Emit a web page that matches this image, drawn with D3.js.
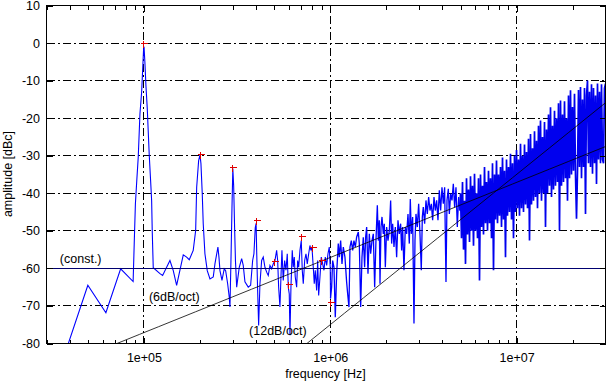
<!DOCTYPE html>
<html><head><meta charset="utf-8">
<script src="https://cdn.jsdelivr.net/npm/d3@7"></script>
<style>
body{margin:0;background:#fff}
text{font-family:"Liberation Sans",Arial,Helvetica,sans-serif;font-size:12.5px;fill:#000}
</style>
</head><body>
<svg id="chart" width="606" height="383"></svg>
<script>
// ---------------- data ----------------
// spectrum below 1 MHz: [frequency kHz, amplitude dBc]
const lowSpectrum = [
[37.5,-83],[50,-64.5],[62.5,-71.8],[75,-60.1],[87.5,-63.5],
[88.7,-53.4],[90.0,-42.8],[91.7,-36],[93.2,-30.4],[95.2,-18.8],[97.2,-13.1],[98.4,-7.3],[99.6,-1.5],[100.2,-1.3],[101.2,-5.1],[102.5,-11.3],[104.2,-17.4],[105.5,-23.7],[106.8,-29.9],[108.6,-36.6],[110.0,-42],[110.8,-49.9],[112.2,-59.8],
[121.9,-61.4],[126.0,-61.9],[137.9,-57.9],[143.7,-60.6],[149.8,-64.5],[162.6,-56.4],[169.5,-57],[175.1,-57.7],[183.9,-55.2],[189.5,-49.9],[191.9,-38.4],[196.6,-31.3],[200,-29.8],[202.3,-32.1],[205.6,-40.1],[208.1,-48.1],[212.5,-56.1],[218.7,-60.6],[226.2,-62.8],[235.5,-62.3],[240.5,-58.8],[249.5,-54.3],[252.7,-57],[255.9,-60.6],[262.3,-63.2],[269.8,-60.1],[274.5,-60.6],[281.4,-64.1],[287.0,-67.7],[289.5,-70.3],
[293.1,-58],[296.8,-44],[300,-33.4],[303.1,-38],[306.9,-50],[309.9,-58],
[314.6,-65.0],[324.8,-59.7],[334.6,-57.4],[341.2,-59.2],[348.4,-63.6],[362.9,-65.0],[373.8,-64.5],[383.2,-57.9],[389.4,-56.1],[395.7,-49.2],[400,-48],[402.7,-55.2],[407.6,-65.9],[412.7,-75.2],[419.4,-64.1],[428.3,-57.9],[436.9,-57.0],[446.2,-59.7],[455.6,-61.0],[464.7,-61.9],[474.6,-59.2],[484.7,-60.1],[494.3,-58.8],[504.8,-57.9],[515.5,-55.2],[522.0,-57.9],[528.4,-65.0],[537.0,-70.3],[543.7,-62.3],[550.4,-55.2],[559.4,-63.2],[569.1,-57.9],[578.4,-60.5],[587.8,-56.1],[595.2,-65.0],[602.5,-66.8],[607.8,-77.8],[615.2,-65.0],[625.2,-55.2],[633.0,-59.7],[640.9,-57.0],[648.8,-62.3],[660.1,-65.0],[668.3,-57.9],[676.7,-59.7],[687.7,-55.2],[698.8,-52.6],[707.5,-60.5],[716.4,-64.1],[728.9,-57.9],[740.7,-56.1],[752.7,-58.8],[765.8,-56.1],[778.0,-53.9],[787.8,-55.2],[797.6,-54.3],[810.6,-59.7],[820.6,-64.1],[830.8,-60.5],[845.3,-65.9],[855.8,-57.9],[866.4,-67.2],[880.5,-62.3],[894.8,-57.0],[910.5,-58.8],[925.2,-60.5],[940.2,-57.0],[956.6,-59.2],[972.1,-56.1],[987.7,-54.3],[1000,-60.1],[1003,-68]
];
// spectrum 1 MHz .. 5 MHz: [frequency MHz, amplitude dBc]
const midSpectrum = [
[1.017,-65.0],[1.030,-57.9],[1.047,-59.7],[1.064,-73.0],[1.082,-61.4],[1.104,-53.4],[1.118,-57.0],[1.137,-52.6],[1.156,-58.8],[1.175,-54.3],
[1.199,-57.0],[1.224,-63.6],[1.240,-66.8],[1.260,-70.3],[1.276,-54.3],[1.297,-52.6],[1.319,-55.2],[1.340,-52.6],[1.363,-54.3],[1.385,-51.7],
[1.414,-50.3],[1.432,-53.4],[1.456,-70.3],[1.480,-57.0],[1.504,-51.7],[1.529,-59.7],[1.548,-51.7],[1.568,-49.0],[1.594,-61.4],[1.620,-50.8],
[1.647,-56.1],[1.675,-52.6],[1.702,-50.8],[1.731,-65.0],[1.759,-52.6],[1.789,-43.2],[1.811,-52.6],[1.833,-47.2],[1.849,-64.1],[1.872,-49.0],
[1.895,-46.3],[1.926,-50.8],[1.950,-48.1],[1.975,-59.7],[2.007,-49.0],[2.041,-52.6],[2.075,-49.9],[2.109,-41.9],[2.135,-53.4],[2.162,-48.1],
[2.198,-54.3],[2.234,-49.0],[2.271,-57.0],[2.309,-47.2],[2.347,-50.8],[2.386,-48.1],[2.416,-55.2],[2.446,-49.0],[2.486,-60.5],[2.528,-49.0],
[2.570,-50.8],[2.613,-45.5],[2.656,-53.4],[2.689,-41.5],[2.722,-50.8],[2.768,-46.3],[2.814,-74.7],[2.849,-52.6],[2.884,-45.5],[2.932,-49.0],
[2.981,-42.8],[3.030,-50.8],[3.080,-60.5],[3.119,-46.3],[3.157,-43.7],[3.210,-48.1],[3.263,-41.9],[3.318,-45.5],[3.373,-41.0],[3.429,-44.6],
[3.486,-42.8],[3.544,-47.2],[3.603,-41.0],[3.662,-44.6],[3.723,-41.9],[3.785,-47.2],[3.848,-39.2],[3.912,-44.6],[3.977,-38.4],[4.043,-42.8],
[4.110,-38.4],[4.179,-63.6],[4.231,-41.9],[4.301,-38.8],[4.354,-45.5],[4.427,-40.1],[4.500,-41.9],[4.575,-37.5],[4.651,-43.7],[4.728,-38.4],
[4.807,-49.0],[4.887,-41.0],[4.968,-44.6]
];
// dense noise floor 5 MHz .. 30 MHz (values read across the band, log-spaced bins)
const denseStartHz = 5e6, denseEndHz = 3e7;
const denseDb = [
-40,-52,-37,-55,-42,-58.8,-36,-51,-39,-53,-35.5,-50,-38,-54,-34.8,-50,-40,-52,-36,-63.2,
-35,-49,-38,-51,-33,-48,-37,-50,-34,-48,-36,-52,-32,-60.5,-35,-47,-31.3,-48,-35,-46,
-33,-49,-30.5,-47,-34,-57,-31,-46,-33,-45,-29.5,-47,-32,-52,-30,-45,-28.5,-44,-31,-46,
-26.8,-44,-30,-45,-27,-43,-29,-44,-25.5,-52.6,-24.2,-43,-28,-42,-23.5,-41,-26,-44,-22,-40,
-20.6,-42,-25,-40,-21,-49,-23,-40,-19,-38,-17.1,-41,-22,-39,-18,-38,-20,-37,-16,-49.9,
-15.3,-38,-19,-37,-15.5,-36,-20,-42,-14,-36,-12.6,-35,-17,-34,-13.5,-35,-46.8,-34,-12.5,-33,
-11.7,-36,-15,-33,-12,-45.5,-14,-10,-32,-13,-33,-11,-34.8,-12,-32,-14,-37.5,-10.8,-31,-13,
-32,-11,-31,-32,-12,-10.8
];
// harmonic markers (red crosses)
const harmonicHz = [1e5,2e5,3e5,4e5,5e5,6e5,7e5,8e5,9e5,1e6];
const harmonicDb = [-0.2,-29.6,-33.2,-47.3,-58.2,-64.3,-51.4,-54.5,-58.0,-69.0];
// reference lines
const constLevelDb = -60;
const sixDbRef = {hz:1e5, db:-77.1, perDecade:20};
const twelveDbRef = {hz:3e7, db:-15.9, perDecade:40};
// axes
const xMajorTicks = [1e5,1e6,1e7];
const yTicks = [10,0,-10,-20,-30,-40,-50,-60,-70,-80];
const annotations = [
  {text:"(const.)", hz:3.56e4, db:-58.7},
  {text:"(6dB/oct)", hz:1.07e5, db:-68.8},
  {text:"(12dB/oct)", hz:3.69e5, db:-77.9}
];

// ---------------- chart ----------------
const L=46,R=605,T=5,B=343;
const x=d3.scaleLog().domain([3e4,3e7]).range([L,R]);
const y=d3.scaleLinear().domain([-80,10]).range([B,T]);
const svg=d3.select("#chart");
const g=svg.append("g").attr("transform","translate(0.5,0.5)");

g.append("clipPath").attr("id","plotclip").append("rect")
  .attr("x",L).attr("y",T).attr("width",R-L).attr("height",B-T);

const dashes="8,3,2,3";
// grid
g.append("g").selectAll("line").data(yTicks.filter(d=>d<10&&d>-80)).join("line")
  .attr("x1",L).attr("x2",R).attr("y1",d=>y(d)).attr("y2",d=>y(d))
  .attr("stroke","#000").attr("stroke-dasharray",dashes).attr("shape-rendering","crispEdges");
g.append("g").selectAll("line").data(xMajorTicks).join("line")
  .attr("x1",d=>Math.round(x(d))).attr("x2",d=>Math.round(x(d))).attr("y1",B).attr("y2",T)
  .attr("stroke","#000").attr("stroke-dasharray",dashes).attr("shape-rendering","crispEdges");

// spectrum
const lowPts=lowSpectrum.map(([k,db])=>({f:k*1e3,db}));
const midPts=[lowPts[lowPts.length-1]].concat(midSpectrum.map(([m,db])=>({f:m*1e6,db})));
const n=denseDb.length;
const densePts=[midPts[midPts.length-1]]
  .concat(denseDb.map((db,i)=>({f:denseStartHz*Math.pow(denseEndHz/denseStartHz,i/(n-1)),db})));

const line=d3.line().x(d=>x(d.f)).y(d=>y(d.db));
const plot=g.append("g").attr("clip-path","url(#plotclip)");
plot.append("path").datum(lowPts).attr("d",line)
  .attr("fill","none").attr("stroke","#0000ff").attr("stroke-width",1.1);
plot.append("path").datum(midPts).attr("d",line)
  .attr("fill","none").attr("stroke","#0000ff").attr("stroke-width",1.3);
plot.append("path").datum(densePts).attr("d",line)
  .attr("fill","none").attr("stroke","#0000ee").attr("stroke-width",1.7)
  .attr("stroke-linejoin","bevel");

// reference lines
const fr=d3.range(0,31).map(i=>3e4*Math.pow(1000,i/30));
plot.append("line").attr("x1",L).attr("x2",R).attr("y1",y(constLevelDb)).attr("y2",y(constLevelDb))
  .attr("stroke","#000070").attr("stroke-width",1).attr("shape-rendering","crispEdges");
[sixDbRef,twelveDbRef].forEach(r=>{
  plot.append("path").datum(fr)
    .attr("d",d3.line().x(f=>x(f)).y(f=>y(r.db+r.perDecade*Math.log10(f/r.hz))))
    .attr("fill","none").attr("stroke","#000").attr("stroke-width",0.8);
});

// harmonic markers
g.append("g").selectAll("path").data(harmonicHz).join("path")
  .attr("transform",(d,i)=>`translate(${Math.round(x(d))},${Math.round(y(harmonicDb[i]))})`)
  .attr("d","M-3,0H4M0,-3V4").attr("stroke","#e00000").attr("stroke-width",1)
  .attr("shape-rendering","crispEdges");

// axes ticks
const xMinor=[];
[1e4,1e5,1e6,1e7].forEach(dec=>{for(let k=2;k<=9;k++){const v=dec*k; if(v>=3e4&&v<=3e7) xMinor.push(v);}});
function tickGroup(axis,tx,ty){
  const a=g.append("g").attr("transform",`translate(${tx},${ty})`).call(axis);
  a.select(".domain").remove();
  a.selectAll("line").attr("shape-rendering","crispEdges");
  a.selectAll("text").attr("font-family",null).attr("font-size",null);
  return a;
}
tickGroup(d3.axisBottom(x).tickValues(xMajorTicks).tickSize(-6).tickPadding(10)
  .tickFormat(d=>"1e+0"+Math.round(Math.log10(d))),0,B);
tickGroup(d3.axisBottom(x).tickValues(xMinor).tickSize(-4).tickFormat(""),0,B);
tickGroup(d3.axisTop(x).tickValues(xMajorTicks).tickSize(-6).tickFormat(""),0,T);
tickGroup(d3.axisTop(x).tickValues(xMinor).tickSize(-4).tickFormat(""),0,T);
tickGroup(d3.axisLeft(y).tickValues(yTicks).tickSize(-6).tickPadding(6.5).tickFormat(d=>String(d)),L,0);
tickGroup(d3.axisRight(y).tickValues(yTicks).tickSize(-6).tickFormat(""),R,0);

// border
g.append("rect").attr("x",L).attr("y",T).attr("width",R-L).attr("height",B-T)
  .attr("fill","none").attr("stroke","#000").attr("shape-rendering","crispEdges");

// annotations
svg.selectAll("text.ann").data(annotations).join("text").attr("class","ann")
  .attr("x",d=>x(d.hz)).attr("y",d=>y(d.db)).text(d=>d.text);

// axis titles
svg.append("text").attr("x",(L+R)/2).attr("y",378).attr("text-anchor","middle").text("frequency [Hz]");
svg.append("text").attr("transform",`translate(12,${(T+B)/2}) rotate(-90)`).attr("text-anchor","middle").text("amplitude [dBc]");
</script>
</body></html>
